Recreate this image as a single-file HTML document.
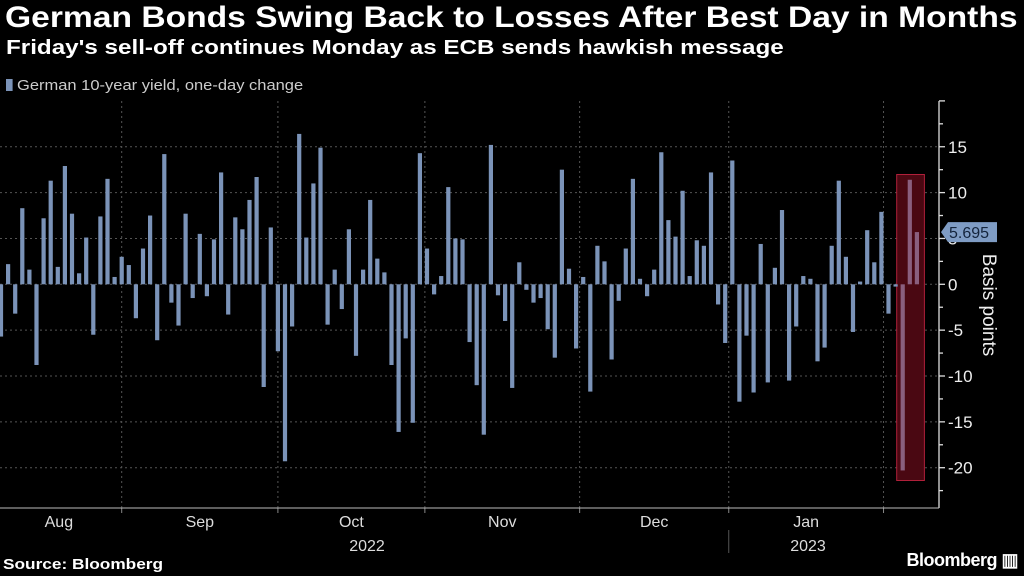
<!DOCTYPE html>
<html><head><meta charset="utf-8">
<style>
html,body{margin:0;padding:0;background:#000;}
body{width:1024px;height:576px;overflow:hidden;position:relative;font-family:"Liberation Sans",sans-serif;color:#fff;}
#title{position:absolute;left:5px;top:1px;font-size:30px;font-weight:bold;white-space:nowrap;transform:scaleX(1.12);transform-origin:left top;}
#subtitle{position:absolute;left:6px;top:37px;font-size:20px;font-weight:bold;white-space:nowrap;transform:scaleX(1.21);transform-origin:left top;}
#legend{position:absolute;left:6px;top:77px;font-size:15px;color:#ccc;white-space:nowrap;transform:scaleX(1.1);transform-origin:left top;}
#legend span.sw{display:inline-block;width:6px;height:12px;background:#7b93b8;margin-right:4px;vertical-align:-1px;}
#source{position:absolute;left:3px;top:556px;font-size:15px;font-weight:bold;transform:scaleX(1.15);transform-origin:left top;}
#brand{position:absolute;right:6px;top:550px;font-size:18px;font-weight:bold;letter-spacing:-0.5px;}
svg{position:absolute;left:0;top:0;}
</style></head><body>
<div id="title">German Bonds Swing Back to Losses After Best Day in Months</div>
<div id="subtitle">Friday's sell-off continues Monday as ECB sends hawkish message</div>
<div id="legend"><span class="sw"></span>German 10-year yield, one-day change</div>
<svg id="chart" width="1024" height="576"></svg>
<div id="source">Source: Bloomberg</div>
<div id="brand">Bloomberg ▥</div>
<script>
const values = [-5.7,2.2,-3.2,8.3,1.6,-8.8,7.2,11.3,1.9,12.9,7.7,1.2,5.1,-5.5,7.4,11.5,0.8,3.0,2.1,-3.7,3.9,7.5,-6.1,
14.2,-2.0,-4.5,7.7,-1.5,5.5,-1.3,4.9,12.2,-3.3,7.3,6.0,9.2,11.7,-11.2,6.2,-7.3,-19.3,-4.6,16.4,5.1,11.0,
14.9,-4.4,1.6,-2.7,6.0,-7.8,1.6,9.2,2.8,1.3,-8.8,-16.1,-5.9,-15.1,14.3,3.9,-1.1,0.9,10.6,5.0,4.9,-6.3,
-11.0,-16.4,15.2,-1.2,-4.0,-11.3,2.4,-0.6,-2.0,-1.5,-4.9,-8.0,12.5,1.7,-7.0,0.8,-11.7,4.2,2.5,-8.2,-1.8,3.9,
11.5,0.6,-1.3,1.6,14.4,7.0,5.2,10.2,0.9,4.8,4.2,12.2,-2.2,-6.4,13.5,-12.8,-5.6,-11.8,4.4,-10.7,1.8,
8.1,-10.5,-4.6,0.9,0.6,-8.4,-6.9,4.2,11.3,3.0,-5.2,0.3,5.9,2.4,7.9,-3.2,-0.25,-20.3,11.4,5.695];
const yTicks = [15,10,5,0,-5,-10,-15,-20];
const months = ["Aug","Sep","Oct","Nov","Dec","Jan"];
const monthStartIdx = [-0.7,17,39,59.7,81.5,102.5,124.3];
const years = ["2022","2023"];
const highlightFrom = 127;
const calloutValue = 5.695;

const NS="http://www.w3.org/2000/svg";
const svg=document.getElementById('chart');
function mk(tag,attrs,parent){const e=document.createElementNS(NS,tag);for(const k in attrs)e.setAttribute(k,attrs[k]);(parent||svg).appendChild(e);return e;}
const y0=284.3, pxPer=9.17;
function y(v){return y0-v*pxPer;}
const x0=1, step=7.1;
function x(i){return x0+i*step;}
const axisX=939, bottomY=508;

yTicks.forEach(t=>{
  const g=mk('line',{x1:0,x2:axisX,y1:y(t),y2:y(t),stroke:'#555','stroke-dasharray':'2,3','stroke-width':1});
  
  
});
monthStartIdx.slice(1).forEach(m=>{
  const gx=x(m);
  const g=mk('line',{x1:gx,x2:gx,y1:101,y2:bottomY,stroke:'#555','stroke-dasharray':'2,3','stroke-width':1});
  
  
  const tk=mk('line',{x1:gx,x2:gx,y1:bottomY,y2:bottomY+5,stroke:'#888','stroke-width':1});
  
  
});
const hx1=x(highlightFrom)-6, hx2=x(values.length-1)+7.5;
const hb=mk('rect',{x:hx1,y:174.5,width:hx2-hx1,height:306,fill:'#4a0812',stroke:'#b0203a','stroke-width':1});


values.forEach((v,i)=>{
  const top=Math.min(y(v),y0), h=Math.max(Math.abs(y(v)-y0),0.8);
  const b=mk('rect',{x:x(i)-2.1,y:top,width:4.2,height:h,fill:i>=highlightFrom?'#8a5f7e':'#7b93b8'});
  
  
});
const ax=mk('line',{x1:axisX,x2:axisX,y1:101,y2:bottomY,stroke:'#ddd','stroke-width':1.3});


const bx=mk('line',{x1:0,x2:axisX,y1:bottomY,y2:bottomY,stroke:'#bbb','stroke-width':1});


for(let v=20;v>=-22.5;v-=2.5){
  const isMajor=(v%5===0);
  const t=mk('line',{x1:axisX,x2:axisX+(isMajor?6:4),y1:y(v),y2:y(v),stroke:'#ddd','stroke-width':1.3});
  
  
}
yTicks.forEach(t=>{
  const tx=mk('text',{x:axisX+9,y:y(t)+6,fill:'#eee','font-size':17,'font-family':'Liberation Sans, sans-serif'});
  tx.textContent=String(t);
  
  
});
const cy=y(calloutValue);
const cp=mk('path',{d:`M${axisX+2},${cy} L${axisX+9},${cy-10} L${axisX+58},${cy-10} L${axisX+58},${cy+10} L${axisX+9},${cy+10} Z`,fill:'#7f9cc4'});


const ct=mk('text',{x:axisX+10,y:cy+6,fill:'#14243c','font-size':16,'font-family':'Liberation Sans, sans-serif'});
ct.textContent=String(calloutValue);


const at=mk('text',{x:0,y:0,fill:'#eee','font-size':19,'font-family':'Liberation Sans, sans-serif','text-anchor':'middle',transform:'translate(983,305) rotate(90)'});
at.textContent='Basis points';


months.forEach((m,k)=>{
  const cx=(x(monthStartIdx[k])+x(monthStartIdx[k+1]))/2;
  const t=mk('text',{x:cx,y:527,fill:'#ddd','font-size':16,'font-family':'Liberation Sans, sans-serif','text-anchor':'middle'});
  t.textContent=m;
  
  
});
const yl=[367,808];
years.forEach((yr,k)=>{
  const t=mk('text',{x:yl[k],y:551,fill:'#ddd','font-size':16,'font-family':'Liberation Sans, sans-serif','text-anchor':'middle'});
  t.textContent=yr;
  
  
});
const ys=mk('line',{x1:x(monthStartIdx[5]),x2:x(monthStartIdx[5]),y1:530,y2:553,stroke:'#555','stroke-width':1});


</script>
</body></html>
